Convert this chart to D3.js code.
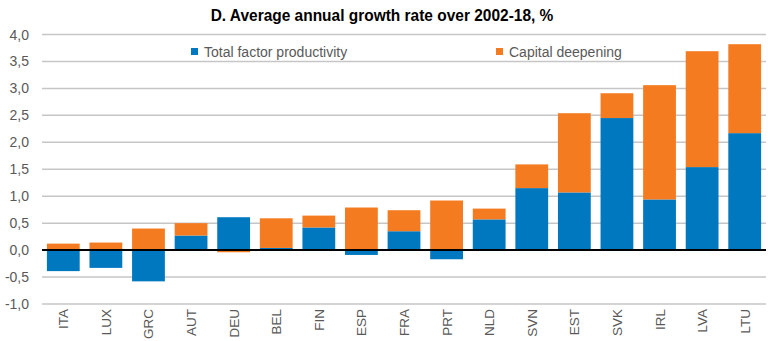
<!DOCTYPE html>
<html>
<head>
<meta charset="utf-8">
<script src="https://cdn.jsdelivr.net/npm/d3@7"></script>
<style>
  body { margin: 0; background: #fff; }
  text { font-family: "Liberation Sans", Arial, sans-serif; }
</style>
</head>
<body>
<svg id="chart"></svg>
<script>
const width = 768;
const height = 341;

const countries = ["ITA", "LUX", "GRC", "AUT", "DEU", "BEL", "FIN", "ESP", "FRA", "PRT", "NLD", "SVN", "EST", "SVK", "IRL", "LVA", "LTU"];
const tfp = [-0.39, -0.33, -0.58, 0.27, 0.61, 0.04, 0.42, -0.09, 0.35, -0.17, 0.57, 1.15, 1.07, 2.45, 0.94, 1.54, 2.17];
const capital = [0.12, 0.14, 0.40, 0.23, -0.04, 0.55, 0.22, 0.79, 0.39, 0.92, 0.20, 0.44, 1.47, 0.46, 2.12, 2.15, 1.65];
const yTicks = [-1, -0.5, 0, 0.5, 1, 1.5, 2, 2.5, 3, 3.5, 4];
const seriesNames = ["Total factor productivity", "Capital deepening"];
const colors = ["#0078c0", "#f47b20"];

const margin = {top: 34.5, right: 2, bottom: 37, left: 42};

const svg = d3.select("#chart")
    .attr("width", width)
    .attr("height", height);

const x = d3.scaleBand()
    .domain(countries)
    .range([margin.left, width - margin.right])
    .paddingInner(0.23)
    .paddingOuter(0.115);

const y = d3.scaleLinear()
    .domain([-1, 4])
    .range([height - margin.bottom, margin.top]);

// gridlines
svg.append("g")
    .selectAll("line")
    .data(yTicks)
    .enter().append("line")
    .attr("x1", margin.left)
    .attr("x2", width - margin.right)
    .attr("y1", d => y(d))
    .attr("y2", d => y(d))
    .style("stroke", "#c6c6c6")
    .style("stroke-width", 1.5);

// y tick labels
svg.append("g")
    .selectAll("text")
    .data(yTicks)
    .enter().append("text")
    .attr("x", 29)
    .attr("y", d => y(d) + 5)
    .attr("text-anchor", "end")
    .style("font-size", "14px")
    .style("fill", "#595959")
    .text(d => d3.format(".1f")(d).replace(".", ",").replace("−", "-"));

// stacked bars, positives stacked up, negatives down
const rows = countries.map((c, i) => ({country: c, values: [tfp[i], capital[i]]}));
const bars = [];
rows.forEach(r => {
    let pos = 0, neg = 0;
    r.values.forEach((v, k) => {
        if (v >= 0) { bars.push({country: r.country, k: k, y0: pos, y1: pos + v}); pos += v; }
        else { bars.push({country: r.country, k: k, y0: neg + v, y1: neg}); neg += v; }
    });
});

svg.append("g")
    .selectAll("rect")
    .data(bars)
    .enter().append("rect")
    .attr("x", d => x(d.country))
    .attr("width", x.bandwidth())
    .attr("y", d => y(d.y1))
    .attr("height", d => y(d.y0) - y(d.y1))
    .style("fill", d => colors[d.k]);

// zero line
svg.append("line")
    .attr("x1", margin.left)
    .attr("x2", width - margin.right)
    .attr("y1", y(0))
    .attr("y2", y(0))
    .style("stroke", "#000")
    .style("stroke-width", 2);

// x labels, rotated
svg.append("g")
    .selectAll("text")
    .data(countries)
    .enter().append("text")
    .attr("transform", d => `translate(${x(d) + x.bandwidth() / 2 + 5},${y(-1) + 5}) rotate(-90)`)
    .attr("text-anchor", "end")
    .style("font-size", "13.5px")
    .style("fill", "#595959")
    .text(d => d);

// title (condensed look, like Arial Narrow)
svg.append("text")
    .attr("transform", "translate(382,21) scale(0.91,1)")
    .attr("text-anchor", "middle")
    .style("font-size", "17px")
    .style("font-weight", "bold")
    .style("fill", "#000")
    .text("D. Average annual growth rate over 2002-18, %");

// legend
const legendX = [191, 496];
const legend = svg.append("g")
    .selectAll("g")
    .data(seriesNames)
    .enter().append("g")
    .attr("transform", (d, i) => `translate(${legendX[i]},48)`);

legend.append("rect")
    .attr("width", 7)
    .attr("height", 7)
    .style("fill", (d, i) => colors[i]);

legend.append("text")
    .attr("x", 13)
    .attr("y", 8.5)
    .style("font-size", "14px")
    .style("fill", "#595959")
    .text(d => d);
</script>
</body>
</html>
